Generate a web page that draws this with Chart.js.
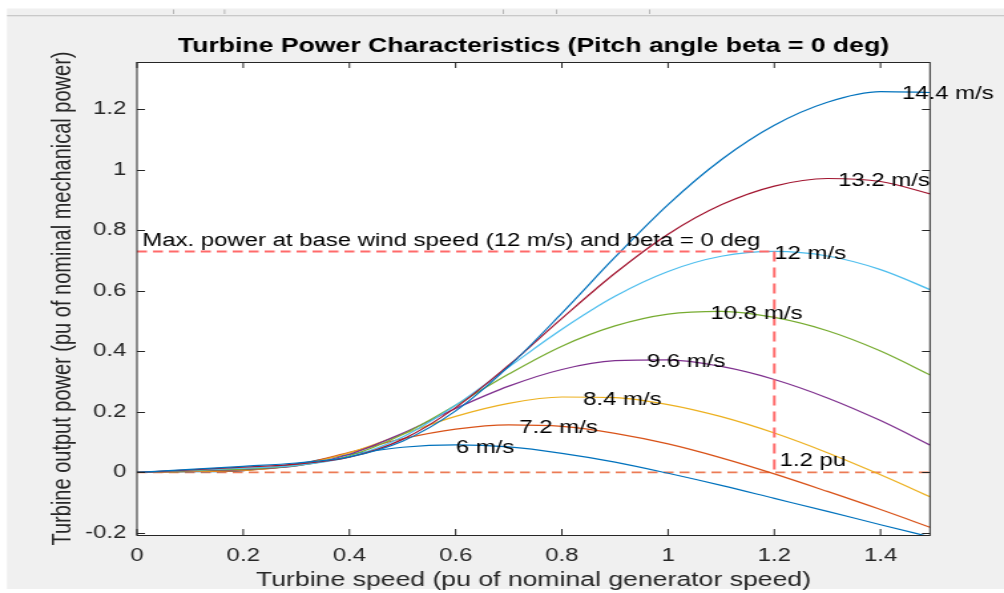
<!DOCTYPE html>
<html>
<head>
<meta charset="utf-8">
<script src="https://cdn.jsdelivr.net/npm/chart.js@4/dist/chart.umd.min.js"></script>
<style>
html, body { margin: 0; padding: 0; background: #ffffff; overflow: hidden; }
#c { display: block; width: 1004px !important; height: 593px !important; }
</style>
</head>
<body>
<canvas id="c" width="755" height="593" style="width:1004px;height:593px"></canvas>
<script>
// ---- data ----
const speeds = [0, 0.1, 0.2, 0.3, 0.4, 0.5, 0.6, 0.7, 0.8, 0.9, 1.0, 1.1, 1.2, 1.3, 1.4, 1.5];
const p6   = [0, 0.002, 0.006, 0.028, 0.059, 0.083, 0.091, 0.084, 0.063, 0.034, -0.003, -0.043, -0.086, -0.129, -0.173, -0.216];
const p72  = [0, 0.003, 0.006, 0.025, 0.066, 0.111, 0.143, 0.157, 0.152, 0.129, 0.094, 0.048, -0.005, -0.063, -0.123, -0.186];
const p84  = [0, 0.003, 0.007, 0.023, 0.065, 0.126, 0.185, 0.228, 0.249, 0.247, 0.224, 0.184, 0.130, 0.065, -0.008, -0.086];
const p96  = [0, 0.005, 0.009, 0.021, 0.060, 0.129, 0.211, 0.285, 0.340, 0.369, 0.372, 0.350, 0.307, 0.246, 0.171, 0.084];
const p108 = [0, 0.006, 0.011, 0.022, 0.055, 0.125, 0.222, 0.325, 0.417, 0.484, 0.523, 0.532, 0.512, 0.468, 0.401, 0.316];
const p12  = [0, 0.007, 0.014, 0.023, 0.051, 0.117, 0.222, 0.348, 0.473, 0.582, 0.664, 0.714, 0.730, 0.715, 0.670, 0.599];
const p132 = [0, 0.008, 0.017, 0.027, 0.050, 0.109, 0.214, 0.354, 0.509, 0.658, 0.787, 0.884, 0.946, 0.971, 0.961, 0.917];
const p144 = [0, 0.010, 0.020, 0.031, 0.051, 0.103, 0.203, 0.350, 0.526, 0.711, 0.885, 1.033, 1.147, 1.223, 1.258, 1.255];

const windLabels = ['6 m/s', '7.2 m/s', '8.4 m/s', '9.6 m/s', '10.8 m/s', '12 m/s', '13.2 m/s', '14.4 m/s'];
const labelX = [0.60, 0.72, 0.84, 0.96, 1.08, 1.20, 1.32, 1.44];
const labelY = [0.081, 0.148, 0.240, 0.364, 0.522, 0.720, 0.962, 1.251];

const basePower = 0.73;     // max power at base wind speed
const baseSpeed = 1.2;      // speed at max power
const zeroLineEnd = 1.5;
const maxNote = 'Max. power at base wind speed (12 m/s) and beta = 0 deg';
const maxNoteX = 0.01, maxNoteY = 0.765;
const puNote = '1.2 pu';
const puNoteX = 1.21, puNoteY = 0.038;

const xTicks = [0, 0.2, 0.4, 0.6, 0.8, 1, 1.2, 1.4];
const xTickLabels = ['0', '0.2', '0.4', '0.6', '0.8', '1', '1.2', '1.4'];
const yTicks = [-0.2, 0, 0.2, 0.4, 0.6, 0.8, 1, 1.2];
const yTickLabels = ['-0.2', '0', '0.2', '0.4', '0.6', '0.8', '1', '1.2'];

const titleText = 'Turbine Power Characteristics (Pitch angle beta = 0 deg)';
const xTitle = 'Turbine speed (pu of nominal generator speed)';
const yTitle = 'Turbine output power (pu of nominal mechanical power)';

// ---- styling ----
const FONT = "'Liberation Sans', Arial, Helvetica, sans-serif";
const AX = '#262626';
const seriesColors = ['#0072BD', '#D95319', '#EDB120', '#7E2F8E', '#77AC30', '#4DBEEE', '#A2142F', '#0072BD'];
const series = [p6, p72, p84, p96, p108, p12, p132, p144];

const toXY = (xs, ys) => xs.map((x, i) => ({ x: x, y: ys[i] }));

const datasets = [];
datasets.push({
  data: [{ x: 0, y: basePower }, { x: baseSpeed, y: basePower }],
  borderColor: '#FF6A6A', borderWidth: 2, borderDash: [7.5, 4.5], pointRadius: 0, order: -3, tension: 0
});
datasets.push({
  data: [{ x: baseSpeed, y: basePower }, { x: baseSpeed, y: 0 }],
  borderColor: '#FF6A6A', borderWidth: 2, borderDash: [10, 6], pointRadius: 0, order: -2, tension: 0
});
datasets.push({
  data: [{ x: 0, y: 0 }, { x: zeroLineEnd, y: 0 }],
  borderColor: '#EC7B55', borderWidth: 1.6, borderDash: [7.5, 4.5], pointRadius: 0, order: 20, tension: 0
});
series.forEach((s, i) => {
  datasets.push({
    data: toXY(speeds, s),
    borderColor: seriesColors[i], borderWidth: 1.2, pointRadius: 0,
    cubicInterpolationMode: 'monotone', order: 10 - i
  });
});

const chromePlugin = {
  id: 'chrome',
  beforeDraw(chart) {
    const ctx = chart.ctx, W = chart.width, H = chart.height, ca = chart.chartArea;
    ctx.save();
    ctx.fillStyle = '#ffffff';
    ctx.fillRect(0, 0, W, H);
    ctx.fillStyle = '#f0f0f0';
    ctx.fillRect(5.3, 8.5, W - 5.3, H - 4 - 8.5);
    ctx.fillStyle = '#c9c9c9';
    ctx.fillRect(5.3, 15, W - 5.3, 1.3);
    ctx.fillStyle = '#a8a8a8';
    [130, 168.5, 378, 418, 488].forEach(x => ctx.fillRect(x, 9.5, 0.8, 4.5));
    ctx.fillStyle = '#ffffff';
    ctx.fillRect(ca.left, ca.top, ca.right - ca.left, ca.bottom - ca.top);
    ctx.restore();
  },
  afterDatasetsDraw(chart) {
    const ctx = chart.ctx, xs = chart.scales.x, ys = chart.scales.y;
    ctx.save();
    ctx.fillStyle = '#000000';
    ctx.font = '18px ' + FONT;
    ctx.textAlign = 'left';
    ctx.textBaseline = 'middle';
    windLabels.forEach((t, i) => {
      ctx.fillText(t, xs.getPixelForValue(labelX[i]), ys.getPixelForValue(labelY[i]));
    });
    ctx.fillText(maxNote, xs.getPixelForValue(maxNoteX), ys.getPixelForValue(maxNoteY));
    ctx.fillText(puNote, xs.getPixelForValue(puNoteX), ys.getPixelForValue(puNoteY));
    ctx.restore();
  },
  afterDraw(chart) {
    const ctx = chart.ctx, ca = chart.chartArea, xs = chart.scales.x, ys = chart.scales.y;
    ctx.save();
    ctx.strokeStyle = AX;
    ctx.lineWidth = 1;
    ctx.beginPath();
    xTicks.forEach(v => {
      const px = xs.getPixelForValue(v);
      ctx.moveTo(px, ca.bottom); ctx.lineTo(px, ca.bottom - 6);
      ctx.moveTo(px, ca.top); ctx.lineTo(px, ca.top + 6);
    });
    yTicks.forEach(v => {
      const py = Math.round(ys.getPixelForValue(v)) + 0.5;
      ctx.moveTo(ca.left, py); ctx.lineTo(ca.left + 6, py);
      ctx.moveTo(ca.right, py); ctx.lineTo(ca.right - 6, py);
    });
    ctx.stroke();
    ctx.strokeRect(ca.left, Math.round(ca.top) + 0.5, ca.right - ca.left, Math.round(ca.bottom - ca.top));
    ctx.restore();
  }
};

new Chart(document.getElementById('c'), {
  type: 'line',
  data: { datasets: datasets },
  plugins: [chromePlugin],
  options: {
    responsive: false,
    devicePixelRatio: 1,
    animation: false,
    events: [],
    layout: { padding: { left: 0, right: 55.7, top: 0, bottom: 0 } },
    plugins: {
      legend: { display: false },
      tooltip: { enabled: false },
      title: {
        display: true, text: titleText, color: '#000000', fullSize: false,
        font: { family: FONT, size: 20, weight: 'bold' },
        padding: { top: 34, bottom: 4 }
      }
    },
    scales: {
      x: {
        type: 'linear', min: 0, max: 1.493,
        grid: { display: false, drawTicks: false },
        border: { display: false },
        afterBuildTicks: s => { s.ticks = xTicks.map(v => ({ value: v })); },
        afterFit: s => { s.height = 58; },
        ticks: {
          autoSkip: false, maxRotation: 0, padding: 10, color: AX,
          font: { family: FONT, size: 18 },
          callback: (v, i) => xTickLabels[i]
        },
        title: {
          display: true, text: xTitle, color: AX,
          font: { family: FONT, size: 20 }, padding: { top: 0, bottom: 1 }
        }
      },
      y: {
        type: 'linear', min: -0.207, max: 1.356,
        grid: { display: false, drawTicks: false },
        border: { display: false },
        afterBuildTicks: s => { s.ticks = yTicks.map(v => ({ value: v })); },
        afterFit: s => { s.width = 103; },
        ticks: {
          autoSkip: false, padding: 8, color: AX,
          font: { family: FONT, size: 18 },
          callback: (v, i) => yTickLabels[i]
        },
        title: {
          display: true, text: yTitle, color: AX,
          font: { family: FONT, size: 20 }, padding: { top: 35, bottom: 0 }
        }
      }
    }
  }
});
</script>
</body>
</html>
